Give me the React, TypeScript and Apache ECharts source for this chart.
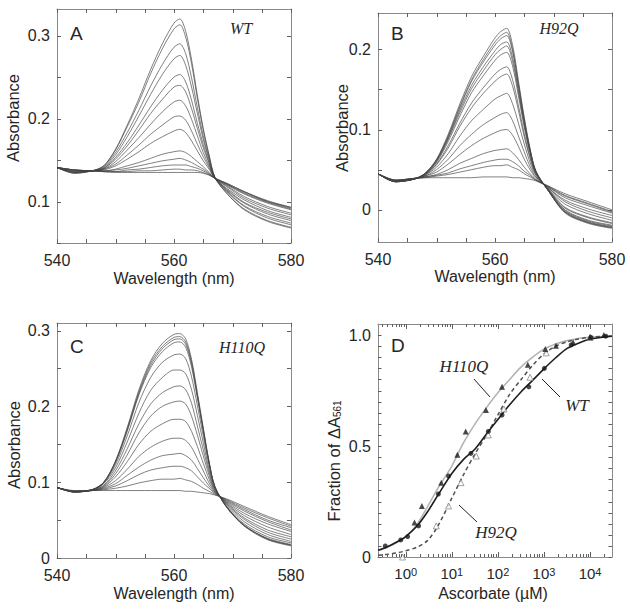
import { useEffect, useRef } from 'react';
import * as echarts from 'echarts';

// ---------------- data ----------------
const WAVELENGTHS = [540, 543, 546, 548, 550, 552, 554, 556, 558, 560, 561, 562, 563, 564, 565, 566, 567, 569, 572, 576, 580];

const WT_SPECTRA = [
  [0.141, 0.134, 0.137, 0.143, 0.163, 0.192, 0.224, 0.259, 0.290, 0.315, 0.320, 0.305, 0.271, 0.228, 0.188, 0.156, 0.129, 0.110, 0.090, 0.076, 0.068],
  [0.141, 0.134, 0.137, 0.143, 0.162, 0.190, 0.220, 0.254, 0.284, 0.308, 0.313, 0.298, 0.266, 0.224, 0.186, 0.155, 0.129, 0.110, 0.091, 0.077, 0.069],
  [0.141, 0.135, 0.137, 0.142, 0.159, 0.183, 0.210, 0.239, 0.265, 0.286, 0.290, 0.278, 0.249, 0.213, 0.179, 0.152, 0.129, 0.112, 0.094, 0.080, 0.072],
  [0.141, 0.135, 0.137, 0.141, 0.156, 0.178, 0.203, 0.229, 0.253, 0.272, 0.276, 0.264, 0.238, 0.206, 0.175, 0.150, 0.129, 0.113, 0.095, 0.082, 0.074],
  [0.141, 0.135, 0.137, 0.140, 0.153, 0.171, 0.192, 0.214, 0.234, 0.250, 0.253, 0.244, 0.222, 0.194, 0.169, 0.147, 0.129, 0.114, 0.098, 0.085, 0.077],
  [0.141, 0.136, 0.137, 0.140, 0.151, 0.167, 0.186, 0.206, 0.223, 0.238, 0.240, 0.232, 0.212, 0.188, 0.165, 0.146, 0.128, 0.115, 0.099, 0.087, 0.079],
  [0.141, 0.136, 0.137, 0.139, 0.148, 0.162, 0.177, 0.193, 0.208, 0.220, 0.222, 0.215, 0.199, 0.179, 0.159, 0.143, 0.128, 0.116, 0.102, 0.089, 0.081],
  [0.141, 0.137, 0.137, 0.139, 0.145, 0.156, 0.168, 0.181, 0.192, 0.202, 0.203, 0.198, 0.185, 0.169, 0.154, 0.141, 0.128, 0.118, 0.104, 0.092, 0.084],
  [0.141, 0.137, 0.137, 0.138, 0.143, 0.151, 0.160, 0.170, 0.178, 0.185, 0.187, 0.183, 0.173, 0.161, 0.149, 0.139, 0.128, 0.119, 0.106, 0.094, 0.086],
  [0.141, 0.138, 0.137, 0.137, 0.139, 0.143, 0.147, 0.152, 0.157, 0.160, 0.161, 0.159, 0.154, 0.148, 0.142, 0.135, 0.128, 0.120, 0.109, 0.098, 0.090],
  [0.141, 0.138, 0.137, 0.137, 0.138, 0.140, 0.143, 0.146, 0.149, 0.151, 0.152, 0.150, 0.147, 0.143, 0.139, 0.134, 0.128, 0.121, 0.110, 0.099, 0.091],
  [0.141, 0.138, 0.137, 0.136, 0.136, 0.138, 0.139, 0.141, 0.143, 0.144, 0.144, 0.144, 0.142, 0.140, 0.137, 0.133, 0.128, 0.121, 0.111, 0.100, 0.092],
  [0.141, 0.138, 0.137, 0.136, 0.136, 0.136, 0.137, 0.137, 0.138, 0.139, 0.139, 0.138, 0.138, 0.137, 0.135, 0.132, 0.128, 0.122, 0.112, 0.100, 0.093],
  [0.141, 0.138, 0.137, 0.136, 0.135, 0.135, 0.135, 0.135, 0.135, 0.135, 0.135, 0.135, 0.135, 0.135, 0.134, 0.132, 0.128, 0.122, 0.112, 0.101, 0.093],
];

const H92Q_SPECTRA = [
  [0.045, 0.035, 0.038, 0.045, 0.063, 0.094, 0.132, 0.166, 0.191, 0.214, 0.222, 0.226, 0.205, 0.161, 0.115, 0.076, 0.048, 0.025, -0.004, -0.017, -0.023],
  [0.045, 0.035, 0.038, 0.045, 0.062, 0.092, 0.129, 0.162, 0.187, 0.209, 0.217, 0.221, 0.200, 0.157, 0.113, 0.075, 0.048, 0.025, -0.003, -0.016, -0.022],
  [0.045, 0.035, 0.038, 0.045, 0.062, 0.091, 0.127, 0.160, 0.184, 0.205, 0.213, 0.217, 0.197, 0.155, 0.111, 0.074, 0.047, 0.025, -0.003, -0.016, -0.022],
  [0.045, 0.035, 0.038, 0.045, 0.061, 0.089, 0.124, 0.155, 0.178, 0.198, 0.206, 0.209, 0.190, 0.150, 0.108, 0.073, 0.047, 0.025, -0.002, -0.015, -0.021],
  [0.045, 0.035, 0.038, 0.044, 0.060, 0.088, 0.121, 0.151, 0.173, 0.193, 0.200, 0.204, 0.185, 0.147, 0.106, 0.071, 0.047, 0.026, -0.001, -0.014, -0.020],
  [0.045, 0.035, 0.038, 0.044, 0.059, 0.085, 0.117, 0.146, 0.167, 0.186, 0.193, 0.196, 0.179, 0.142, 0.103, 0.070, 0.046, 0.026, 0.000, -0.013, -0.019],
  [0.045, 0.036, 0.038, 0.044, 0.057, 0.080, 0.108, 0.133, 0.152, 0.169, 0.175, 0.178, 0.162, 0.130, 0.095, 0.066, 0.045, 0.026, 0.002, -0.010, -0.017],
  [0.045, 0.036, 0.038, 0.043, 0.056, 0.077, 0.104, 0.127, 0.145, 0.160, 0.166, 0.169, 0.154, 0.124, 0.091, 0.064, 0.044, 0.027, 0.003, -0.009, -0.016],
  [0.045, 0.036, 0.038, 0.043, 0.053, 0.070, 0.092, 0.111, 0.125, 0.138, 0.142, 0.145, 0.132, 0.108, 0.082, 0.059, 0.043, 0.027, 0.007, -0.005, -0.013],
  [0.045, 0.036, 0.039, 0.042, 0.050, 0.063, 0.080, 0.094, 0.106, 0.115, 0.119, 0.121, 0.111, 0.092, 0.072, 0.054, 0.041, 0.028, 0.010, -0.002, -0.010],
  [0.045, 0.036, 0.039, 0.042, 0.047, 0.057, 0.069, 0.080, 0.089, 0.096, 0.099, 0.100, 0.093, 0.079, 0.063, 0.050, 0.040, 0.028, 0.012, 0.001, -0.007],
  [0.045, 0.037, 0.039, 0.041, 0.044, 0.050, 0.058, 0.064, 0.070, 0.074, 0.075, 0.076, 0.071, 0.063, 0.053, 0.045, 0.038, 0.029, 0.015, 0.005, -0.004],
  [0.045, 0.037, 0.039, 0.041, 0.043, 0.046, 0.051, 0.055, 0.059, 0.062, 0.063, 0.063, 0.060, 0.055, 0.048, 0.043, 0.037, 0.029, 0.017, 0.007, -0.003],
  [0.045, 0.037, 0.039, 0.040, 0.042, 0.044, 0.047, 0.050, 0.053, 0.055, 0.055, 0.056, 0.053, 0.050, 0.045, 0.041, 0.037, 0.030, 0.018, 0.008, -0.002],
  [0.045, 0.037, 0.039, 0.040, 0.040, 0.040, 0.040, 0.040, 0.041, 0.041, 0.041, 0.041, 0.040, 0.040, 0.039, 0.038, 0.036, 0.030, 0.020, 0.010, 0.000],
];

const H110Q_SPECTRA = [
  [0.093, 0.087, 0.090, 0.100, 0.128, 0.172, 0.222, 0.260, 0.283, 0.295, 0.296, 0.289, 0.262, 0.218, 0.172, 0.127, 0.094, 0.067, 0.042, 0.024, 0.016],
  [0.093, 0.087, 0.090, 0.100, 0.127, 0.170, 0.219, 0.257, 0.279, 0.291, 0.292, 0.285, 0.259, 0.215, 0.170, 0.126, 0.094, 0.067, 0.043, 0.025, 0.017],
  [0.093, 0.087, 0.090, 0.100, 0.127, 0.169, 0.217, 0.254, 0.276, 0.288, 0.289, 0.282, 0.256, 0.213, 0.169, 0.126, 0.094, 0.067, 0.043, 0.025, 0.017],
  [0.093, 0.087, 0.090, 0.099, 0.126, 0.167, 0.215, 0.251, 0.272, 0.284, 0.285, 0.278, 0.252, 0.211, 0.167, 0.125, 0.093, 0.068, 0.043, 0.026, 0.018],
  [0.093, 0.087, 0.090, 0.099, 0.123, 0.161, 0.205, 0.238, 0.258, 0.268, 0.269, 0.263, 0.239, 0.201, 0.161, 0.122, 0.093, 0.068, 0.045, 0.028, 0.020],
  [0.093, 0.087, 0.090, 0.098, 0.119, 0.153, 0.191, 0.221, 0.238, 0.248, 0.248, 0.243, 0.222, 0.188, 0.152, 0.117, 0.092, 0.070, 0.048, 0.031, 0.022],
  [0.093, 0.088, 0.090, 0.096, 0.115, 0.144, 0.177, 0.203, 0.218, 0.226, 0.227, 0.222, 0.204, 0.174, 0.143, 0.113, 0.090, 0.071, 0.051, 0.034, 0.025],
  [0.093, 0.088, 0.090, 0.095, 0.111, 0.136, 0.165, 0.187, 0.200, 0.206, 0.207, 0.203, 0.187, 0.162, 0.135, 0.109, 0.089, 0.072, 0.053, 0.037, 0.028],
  [0.093, 0.088, 0.089, 0.094, 0.107, 0.127, 0.150, 0.167, 0.177, 0.183, 0.183, 0.180, 0.167, 0.147, 0.125, 0.104, 0.088, 0.073, 0.056, 0.041, 0.031],
  [0.093, 0.088, 0.089, 0.093, 0.102, 0.117, 0.134, 0.146, 0.154, 0.158, 0.158, 0.155, 0.146, 0.131, 0.115, 0.099, 0.087, 0.074, 0.059, 0.045, 0.035],
  [0.093, 0.088, 0.089, 0.092, 0.098, 0.109, 0.120, 0.129, 0.135, 0.137, 0.138, 0.135, 0.129, 0.118, 0.106, 0.095, 0.086, 0.075, 0.062, 0.048, 0.037],
  [0.093, 0.088, 0.089, 0.091, 0.095, 0.102, 0.110, 0.116, 0.119, 0.121, 0.121, 0.119, 0.115, 0.107, 0.099, 0.092, 0.085, 0.076, 0.064, 0.050, 0.040],
  [0.093, 0.088, 0.089, 0.090, 0.092, 0.095, 0.099, 0.102, 0.104, 0.104, 0.105, 0.103, 0.101, 0.097, 0.092, 0.088, 0.084, 0.077, 0.066, 0.053, 0.042],
  [0.093, 0.089, 0.089, 0.089, 0.089, 0.089, 0.089, 0.089, 0.089, 0.089, 0.089, 0.088, 0.088, 0.087, 0.086, 0.085, 0.083, 0.078, 0.068, 0.055, 0.044],
];

// Panel D: ascorbate titration (µM) and fraction of ΔA561
const FIT_CONC = [0.25, 0.4, 0.7, 1, 1.8, 3, 5, 10, 18, 32, 56, 100, 180, 320, 560, 1000, 1800, 3200, 5600, 10000, 30000];
const WT_FIT = [0.030, 0.046, 0.072, 0.092, 0.142, 0.205, 0.279, 0.376, 0.440, 0.487, 0.553, 0.620, 0.686, 0.745, 0.795, 0.848, 0.898, 0.940, 0.963, 0.982, 0.995];
const H110Q_FIT = [0.028, 0.044, 0.070, 0.090, 0.150, 0.228, 0.310, 0.410, 0.515, 0.600, 0.672, 0.740, 0.800, 0.857, 0.900, 0.937, 0.960, 0.975, 0.985, 0.990, 0.996];
const H92Q_FIT = [0.008, 0.012, 0.020, 0.028, 0.045, 0.075, 0.140, 0.265, 0.371, 0.465, 0.547, 0.640, 0.733, 0.800, 0.862, 0.915, 0.950, 0.970, 0.982, 0.990, 0.997];

const WT_CONC = [0.36, 0.78, 1.1, 1.9, 5.1, 8.5, 26, 62, 123, 470, 1020, 3900, 10500, 22000];
const WT_FRAC = [0.050, 0.077, 0.092, 0.140, 0.284, 0.365, 0.467, 0.566, 0.640, 0.767, 0.850, 0.956, 0.990, 0.995];
const H110Q_CONC = [1.55, 2.24, 5.9, 13.2, 20, 55, 123, 447, 1070, 1820, 4300, 10000, 20000];
const H110Q_FRAC = [0.155, 0.230, 0.335, 0.461, 0.565, 0.662, 0.767, 0.866, 0.937, 0.952, 0.968, 0.990, 1.000];
const H92Q_CONC = [0.85, 4.6, 8.5, 15.8, 34, 62, 135, 500, 1120, 10000];
const H92Q_FRAC = [0.000, 0.140, 0.230, 0.335, 0.455, 0.550, 0.667, 0.810, 0.920, 0.990];

// tick values
const X_TICKS = [540, 545, 550, 555, 560, 565, 570, 575, 580];
const X_LABELS = [540, 560, 580];
const A_Y_TICKS = [0.05, 0.1, 0.15, 0.2, 0.25, 0.3];
const A_Y_LABELS = [0.1, 0.2, 0.3];
const B_Y_TICKS = [0, 0.05, 0.1, 0.15, 0.2];
const B_Y_LABELS = [0, 0.1, 0.2];
const C_Y_TICKS = [0, 0.05, 0.1, 0.15, 0.2, 0.25, 0.3];
const C_Y_LABELS = [0, 0.1, 0.2, 0.3];
const D_Y_TICKS = [0, 0.05, 0.1, 0.15, 0.2, 0.25, 0.3, 0.35, 0.4, 0.45, 0.5, 0.55, 0.6, 0.65, 0.7, 0.75, 0.8, 0.85, 0.9, 0.95, 1.0];
const D_Y_LABELS = [0, 0.5, 1.0];
const D_X_DECADES = [0, 1, 2, 3, 4];

// ---------------- styling ----------------
const SANS = '"Liberation Sans", Arial, Helvetica, sans-serif';
const SERIF = '"Liberation Serif", "Times New Roman", serif';
const TEXT = '#262626';
const FRAME = '#8a8a8a';
const TICK = '#606060';

const GRIDS = [
  { left: 57, top: 9, width: 234, height: 234 },
  { left: 378, top: 13, width: 234, height: 229 },
  { left: 57, top: 323, width: 234, height: 235 },
  { left: 378, top: 324, width: 234, height: 233 },
];

const FRAME_LINE = { show: true, onZero: false, lineStyle: { color: FRAME, width: 1 } };
const NO_TICK = { show: false };

function buildOption() {
  const grid = GRIDS.map((g) => ({ ...g, show: false, containLabel: false }));

  const specX = (gi: number, pos: 'bottom' | 'top') => ({
    type: 'value', gridIndex: gi, position: pos, min: 540, max: 580,
    axisLine: FRAME_LINE, splitLine: { show: false }, axisTick: NO_TICK,
    axisLabel: pos === 'bottom'
      ? { show: true, customValues: X_LABELS, fontSize: 16, color: TEXT, fontFamily: SANS, margin: 9 }
      : { show: false },
  });

  const yFmt = (v: number) => (Math.abs(v) < 1e-9 ? '0' : v.toFixed(1));
  const specY = (gi: number, pos: 'left' | 'right', min: number, max: number, labels: number[]) => ({
    type: 'value', gridIndex: gi, position: pos, min, max,
    axisLine: FRAME_LINE, splitLine: { show: false }, axisTick: NO_TICK,
    axisLabel: pos === 'left'
      ? { show: true, customValues: labels, formatter: yFmt, fontSize: 16, color: TEXT, fontFamily: SANS, margin: 7 }
      : { show: false },
  });

  const dMin = Math.log10(0.25);
  const dMax = Math.log10(30000);
  const minorTicks: number[] = [];
  for (let e = -1; e <= 4; e++) {
    for (let k = 2; k <= 9; k++) {
      const v = Math.log10(k * Math.pow(10, e));
      if (v > dMin && v < dMax) minorTicks.push(v);
    }
  }

  const dX = (pos: 'bottom' | 'top') => ({
    type: 'value', gridIndex: 3, position: pos, min: dMin, max: dMax,
    axisLine: FRAME_LINE, splitLine: { show: false }, axisTick: NO_TICK,
    axisLabel: pos === 'bottom'
      ? {
          show: true, customValues: D_X_DECADES, margin: 9,
          formatter: (v: number) => `{b|10}{s|${Math.round(v)}}`,
          rich: {
            b: { fontSize: 15, color: TEXT, fontFamily: SANS },
            s: { fontSize: 11, color: TEXT, fontFamily: SANS, verticalAlign: 'top' },
          },
        }
      : { show: false },
  });

  const xAxis = [
    specX(0, 'bottom'), specX(0, 'top'),
    specX(1, 'bottom'), specX(1, 'top'),
    specX(2, 'bottom'), specX(2, 'top'),
    dX('bottom'), dX('top'),
  ];
  const yAxis = [
    specY(0, 'left', 0.05, 0.332, A_Y_LABELS), specY(0, 'right', 0.05, 0.332, A_Y_LABELS),
    specY(1, 'left', -0.04, 0.245, B_Y_LABELS), specY(1, 'right', -0.04, 0.245, B_Y_LABELS),
    specY(2, 'left', 0, 0.31, C_Y_LABELS), specY(2, 'right', 0, 0.31, C_Y_LABELS),
    specY(3, 'left', 0, 1.05, D_Y_LABELS), specY(3, 'right', 0, 1.05, D_Y_LABELS),
  ];

  const series: any[] = [];

  // inward tick marks on all four sides, placed through the axes' own scales
  const tickLine = (x1: number, y1: number, x2: number, y2: number) => ({
    type: 'line', shape: { x1, y1, x2, y2 }, style: { stroke: TICK, lineWidth: 1 },
  });
  const xTicks = (axisIdx: number, vals: number[], yRef: number, len: number) => ({
    type: 'custom', xAxisIndex: axisIdx, yAxisIndex: axisIdx, silent: true, clip: false, z: 20,
    data: vals.map((v) => [v, yRef]),
    renderItem: (params: any, api: any) => {
      const p = api.coord([api.value(0), api.value(1)]);
      const cs = params.coordSys;
      const x = Math.round(p[0]) + 0.5;
      const bottom = cs.y + cs.height;
      return { type: 'group', children: [tickLine(x, bottom, x, bottom - len), tickLine(x, cs.y, x, cs.y + len)] };
    },
  });
  const yTicks = (axisIdx: number, vals: number[], xRef: number, len: number) => ({
    type: 'custom', xAxisIndex: axisIdx, yAxisIndex: axisIdx, silent: true, clip: false, z: 20,
    data: vals.map((v) => [xRef, v]),
    renderItem: (params: any, api: any) => {
      const p = api.coord([api.value(0), api.value(1)]);
      const cs = params.coordSys;
      const y = Math.round(p[1]) + 0.5;
      const right = cs.x + cs.width;
      return { type: 'group', children: [tickLine(cs.x, y, cs.x + len, y), tickLine(right, y, right - len, y)] };
    },
  });

  series.push(xTicks(0, X_TICKS, 0.1, 4), yTicks(0, A_Y_TICKS, 550, 4));
  series.push(xTicks(2, X_TICKS, 0.1, 4), yTicks(2, B_Y_TICKS, 550, 4));
  series.push(xTicks(4, X_TICKS, 0.1, 4), yTicks(4, C_Y_TICKS, 550, 4));
  series.push({ ...xTicks(6, D_X_DECADES, 0.5, 5), yAxisIndex: 6 });
  series.push({ ...xTicks(6, minorTicks, 0.5, 3), yAxisIndex: 6 });
  series.push({ ...yTicks(6, D_Y_TICKS, 1, 3.5), yAxisIndex: 6 });

  const spectra = [WT_SPECTRA, H92Q_SPECTRA, H110Q_SPECTRA];
  spectra.forEach((set, p) => {
    set.forEach((curve, i) => {
      series.push({
        type: 'line', xAxisIndex: p * 2, yAxisIndex: p * 2, silent: true,
        showSymbol: false, smooth: 0.3,
        data: WAVELENGTHS.map((w, j) => [w, curve[j]]),
        lineStyle: { color: '#444', width: 0.8, opacity: 0.85 },
        z: 2 + i,
      });
    });
  });

  const lg = (c: number) => Math.log10(c);
  series.push({
    type: 'line', xAxisIndex: 6, yAxisIndex: 6, silent: true, showSymbol: false, smooth: 0.3,
    data: FIT_CONC.map((c, j) => [lg(c), H110Q_FIT[j]]),
    lineStyle: { color: '#b4b4b4', width: 1.6 }, z: 2,
  });
  series.push({
    type: 'line', xAxisIndex: 6, yAxisIndex: 6, silent: true, showSymbol: false, smooth: 0.3,
    data: FIT_CONC.map((c, j) => [lg(c), H92Q_FIT[j]]),
    lineStyle: { color: '#505050', width: 1.5, type: [4, 3] }, z: 3,
  });
  series.push({
    type: 'line', xAxisIndex: 6, yAxisIndex: 6, silent: true, showSymbol: false, smooth: 0.3,
    data: FIT_CONC.map((c, j) => [lg(c), WT_FIT[j]]),
    lineStyle: { color: '#1e1e1e', width: 1.6 }, z: 4,
  });
  series.push({
    type: 'scatter', xAxisIndex: 6, yAxisIndex: 6, silent: true, symbol: 'triangle', symbolSize: 6,
    data: H92Q_CONC.map((c, j) => [lg(c), H92Q_FRAC[j]]),
    itemStyle: { color: '#ffffff', borderColor: '#8a8a8a', borderWidth: 1 }, z: 5,
  });
  series.push({
    type: 'scatter', xAxisIndex: 6, yAxisIndex: 6, silent: true, symbol: 'triangle', symbolSize: 6,
    data: H110Q_CONC.map((c, j) => [lg(c), H110Q_FRAC[j]]),
    itemStyle: { color: '#1a1a1a' }, z: 6,
  });
  series.push({
    type: 'scatter', xAxisIndex: 6, yAxisIndex: 6, silent: true, symbol: 'circle', symbolSize: 5,
    data: WT_CONC.map((c, j) => [lg(c), WT_FRAC[j]]),
    itemStyle: { color: '#1a1a1a' }, z: 7,
  });

  const txt = (text: string, x: number, y: number, font: string, align = 'center', rotation = 0, extra: any = {}) => ({
    type: 'text', x, y, rotation, silent: true,
    style: {
      text, font, fill: TEXT,
      align, textAlign: align, verticalAlign: 'middle', textVerticalAlign: 'middle',
      ...extra,
    },
  });
  const line = (x1: number, y1: number, x2: number, y2: number) => ({
    type: 'line', silent: true, shape: { x1, y1, x2, y2 }, style: { stroke: '#222', lineWidth: 1 },
  });

  const letterFont = `19px ${SANS}`;
  const titleFont = `16px ${SANS}`;
  const yTitleFont = `16.5px ${SANS}`;
  const italic = `italic 16px ${SERIF}`;
  const italicD = `italic 17px ${SERIF}`;

  const graphic = [
    txt('A', 70, 33, letterFont, 'left'),
    txt('B', 391, 33, letterFont, 'left'),
    txt('C', 70, 346, letterFont, 'left'),
    txt('D', 391, 345, letterFont, 'left'),
    txt('WT', 241, 28, italic),
    txt('H92Q', 559, 28, italic),
    txt('H110Q', 242, 347, italic),
    txt('H110Q', 464, 366, italicD),
    txt('WT', 577, 405, italicD),
    txt('H92Q', 496, 532, italicD),
    line(474, 379, 490, 397),
    line(542, 379, 560, 397),
    line(459, 505, 477, 522),
    txt('Wavelength (nm)', 174, 278, titleFont),
    txt('Wavelength (nm)', 495, 276, titleFont),
    txt('Wavelength (nm)', 174, 593, titleFont),
    txt('Ascorbate (\u00B5M)', 493, 593, titleFont),
    txt('Absorbance', 13, 118, yTitleFont, 'center', Math.PI / 2),
    txt('Absorbance', 342, 128, yTitleFont, 'center', Math.PI / 2),
    txt('Absorbance', 14, 445, yTitleFont, 'center', Math.PI / 2),
    txt('Fraction of \u0394A{sub|561}', 334, 461, yTitleFont, 'center', Math.PI / 2, {
      rich: { sub: { fontSize: 10, fontFamily: SANS, fill: TEXT, verticalAlign: 'bottom', padding: [6, 0, 0, 0] } },
    }),
  ];

  return {
    animation: false,
    backgroundColor: '#ffffff',
    grid, xAxis, yAxis, series, graphic,
  };
}

export default function App() {
  const ref = useRef<HTMLDivElement>(null);
  useEffect(() => {
    if (!ref.current) return;
    const chart = echarts.init(ref.current, null, { renderer: 'svg' });
    chart.setOption(buildOption() as any);
    return () => chart.dispose();
  }, []);
  return <div ref={ref} style={{ position: 'fixed', left: 0, top: 0, width: 630, height: 614, background: '#fff' }} />;
}
